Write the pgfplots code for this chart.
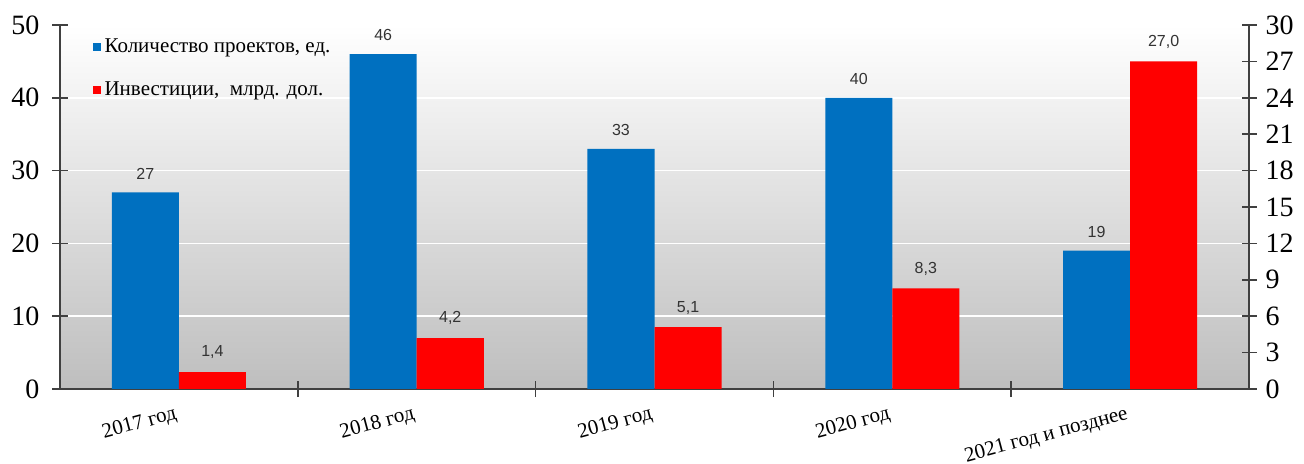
\documentclass[border=0pt]{standalone}
\usepackage{fontspec}
\setmainfont{Liberation Serif}
\newfontfamily\lsans{Liberation Sans}
\usepackage{pgfplots}
\pgfplotsset{compat=1.18}
\definecolor{barblue}{HTML}{0070C0}
\definecolor{barred}{HTML}{FF0000}
\definecolor{bggray}{HTML}{BEBEBE}
\definecolor{axgray}{HTML}{404040}

\pgfplotsset{
  common/.style={
    scale only axis, width=594.5pt, height=182pt,
    xmin=-0.5, xmax=4.5, ymin=0,
    ybar, bar width=0.282,
    tick align=center, major tick length=7.5pt, minor tick length=8pt,
    axis line style={axgray, line width=0.8pt},
    tick style={axgray, line width=0.8pt},
    /pgf/number format/assume math mode=true,
    yticklabel style={font=\fontsize{14}{14}\selectfont},
    nodes near coords,
    every node near coord/.append style={font=\lsans\fontsize{8}{8}\selectfont, black!80, yshift=3pt},
  }
}

\begin{document}
\begin{tikzpicture}
\begin{axis}[common, name=ax,
  ymax=50, ytick={0,10,...,50},
  axis x line*=bottom, axis y line*=left,
  axis background/.style={top color=white, bottom color=bggray},
  ymajorgrids, grid style={white, line width=0.8pt},
  xtick={0,...,4},
  xticklabels={2017 год, 2018 год, 2019 год, 2020 год, 2021 год и позднее},
  major x tick style={draw=none},
  minor xtick={0.5,1.5,2.5,3.5},
  xticklabel style={font=\fontsize{10.5}{10.5}\selectfont, rotate=15, anchor=north east, yshift=0pt},
  yticklabel style={xshift=-3pt},
  legend style={draw=none, fill=none, at={(0.022,0.985)}, anchor=north west,
    font=\fontsize{10.5}{10.5}\selectfont, row sep=9pt},
  legend cell align=left,
  legend image code/.code={\fill[#1] (0pt,-2pt) rectangle (4pt,2pt);},
]
\addplot[fill=barblue, draw=none, bar shift=-0.141] coordinates {
  (0,27) (1,46) (2,33) (3,40) (4,19)
};
\addlegendentry{Количество проектов, ед.}
\addlegendimage{fill=barred, draw=none}
\addlegendentry{Инвестиции, \ млрд. дол.}
\end{axis}
\begin{axis}[common,
  ymax=30, ytick={0,3,...,30},
  axis y line*=right, axis x line=none,
  yticklabel style={xshift=1pt},
  nodes near coords={\pgfmathprintnumber[fixed,fixed zerofill,precision=1,use comma]{\pgfplotspointmeta}},
]
\addplot[fill=barred, draw=none, bar shift=0.141] coordinates {
  (0,1.4) (1,4.2) (2,5.1) (3,8.3) (4,27.0)
};
\end{axis}
\pgfresetboundingbox
\path ([xshift=-30pt,yshift=-37.5pt]ax.south west) rectangle ([xshift=27.5pt,yshift=12.5pt]ax.north east);
\end{tikzpicture}
\end{document}
